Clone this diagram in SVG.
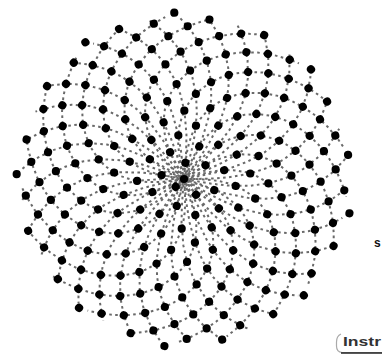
<svg xmlns="http://www.w3.org/2000/svg" width="382" height="358" viewBox="0 0 382 358">
<style>
.arm{fill:none;stroke:#6a6a6a;stroke-width:2;stroke-dasharray:2.6 3.4}
.t{font-family:"Liberation Sans",Arial,sans-serif;font-weight:bold}
</style>
<defs>
<polyline id="a" class="arm" points="0,0 11.39,0.07 19.73,0.38 27.88,1.07 35.95,2.29 43.91,4.21 51.73,6.96 61.25,11.85 69.71,18.16 76.49,25.22 81.87,32.89 87.59,45.35 90.78,58.6 91.56,72.37 90.07,86.34 86.38,100.26 80.52,113.92 72.69,126.98 62.94,139.24 51.36,150.53 42.73,157.37"/>
<polyline id="b" class="arm" points="0,0 11.39,-0.03 27.9,-0.41 44.08,-1.61 66.18,-5.48 83.72,-11.26 99.96,-19.68 115.22,-31.56 127.03,-44.99 136.01,-59.64 142.41,-75.29 143.25,-77.95"/>
<circle id="d" r="0.36"/>
</defs>
<rect width="382" height="358" fill="#fff"/>
<g id="connectors" transform="translate(184,179)">
<use href="#a" style="stroke-dashoffset:0"/><use href="#a" transform="rotate(17.14)" style="stroke-dashoffset:1.7"/><use href="#a" transform="rotate(34.29)" style="stroke-dashoffset:3.4"/><use href="#a" transform="rotate(51.43)" style="stroke-dashoffset:5.1"/><use href="#a" transform="rotate(68.57)" style="stroke-dashoffset:0.8"/><use href="#a" transform="rotate(85.71)" style="stroke-dashoffset:2.5"/><use href="#a" transform="rotate(102.86)" style="stroke-dashoffset:4.2"/><use href="#a" transform="rotate(120)" style="stroke-dashoffset:5.9"/><use href="#a" transform="rotate(137.14)" style="stroke-dashoffset:1.6"/><use href="#a" transform="rotate(154.29)" style="stroke-dashoffset:3.3"/><use href="#a" transform="rotate(171.43)" style="stroke-dashoffset:5"/><use href="#a" transform="rotate(188.57)" style="stroke-dashoffset:0.7"/><use href="#a" transform="rotate(205.71)" style="stroke-dashoffset:2.4"/><use href="#a" transform="rotate(222.86)" style="stroke-dashoffset:4.1"/><use href="#a" transform="rotate(240)" style="stroke-dashoffset:5.8"/><use href="#a" transform="rotate(257.14)" style="stroke-dashoffset:1.5"/><use href="#a" transform="rotate(274.29)" style="stroke-dashoffset:3.2"/><use href="#a" transform="rotate(291.43)" style="stroke-dashoffset:4.9"/><use href="#a" transform="rotate(308.57)" style="stroke-dashoffset:0.6"/><use href="#a" transform="rotate(325.71)" style="stroke-dashoffset:2.3"/><use href="#a" transform="rotate(342.86)" style="stroke-dashoffset:4"/>
<use href="#b" style="stroke-dashoffset:2.9"/><use href="#b" transform="rotate(10.59)" style="stroke-dashoffset:4.6"/><use href="#b" transform="rotate(21.18)" style="stroke-dashoffset:0.3"/><use href="#b" transform="rotate(31.76)" style="stroke-dashoffset:2"/><use href="#b" transform="rotate(42.35)" style="stroke-dashoffset:3.7"/><use href="#b" transform="rotate(52.94)" style="stroke-dashoffset:5.4"/><use href="#b" transform="rotate(63.53)" style="stroke-dashoffset:1.1"/><use href="#b" transform="rotate(74.12)" style="stroke-dashoffset:2.8"/><use href="#b" transform="rotate(84.71)" style="stroke-dashoffset:4.5"/><use href="#b" transform="rotate(95.29)" style="stroke-dashoffset:0.2"/><use href="#b" transform="rotate(105.88)" style="stroke-dashoffset:1.9"/><use href="#b" transform="rotate(116.47)" style="stroke-dashoffset:3.6"/><use href="#b" transform="rotate(127.06)" style="stroke-dashoffset:5.3"/><use href="#b" transform="rotate(137.65)" style="stroke-dashoffset:1"/><use href="#b" transform="rotate(148.24)" style="stroke-dashoffset:2.7"/><use href="#b" transform="rotate(158.82)" style="stroke-dashoffset:4.4"/><use href="#b" transform="rotate(169.41)" style="stroke-dashoffset:0.1"/><use href="#b" transform="rotate(180)" style="stroke-dashoffset:1.8"/><use href="#b" transform="rotate(190.59)" style="stroke-dashoffset:3.5"/><use href="#b" transform="rotate(201.18)" style="stroke-dashoffset:5.2"/><use href="#b" transform="rotate(211.76)" style="stroke-dashoffset:0.9"/><use href="#b" transform="rotate(222.35)" style="stroke-dashoffset:2.6"/><use href="#b" transform="rotate(232.94)" style="stroke-dashoffset:4.3"/><use href="#b" transform="rotate(243.53)" style="stroke-dashoffset:6"/><use href="#b" transform="rotate(254.12)" style="stroke-dashoffset:1.7"/><use href="#b" transform="rotate(264.71)" style="stroke-dashoffset:3.4"/><use href="#b" transform="rotate(275.29)" style="stroke-dashoffset:5.1"/><use href="#b" transform="rotate(285.88)" style="stroke-dashoffset:0.8"/><use href="#b" transform="rotate(296.47)" style="stroke-dashoffset:2.5"/><use href="#b" transform="rotate(307.06)" style="stroke-dashoffset:4.2"/><use href="#b" transform="rotate(317.65)" style="stroke-dashoffset:5.9"/><use href="#b" transform="rotate(328.24)" style="stroke-dashoffset:1.6"/><use href="#b" transform="rotate(338.82)" style="stroke-dashoffset:3.3"/><use href="#b" transform="rotate(349.41)" style="stroke-dashoffset:5"/>
</g>
<g id="dots" transform="translate(184,179) scale(11.39)" fill="#000">
<use href="#d"/>
<use href="#d" transform="rotate(137.51)translate(1)"/>
<use href="#d" transform="rotate(275.02)translate(1.414)"/>
<use href="#d" transform="rotate(412.52)translate(1.732)"/>
<use href="#d" transform="rotate(550.03)translate(2)"/>
<use href="#d" transform="rotate(687.54)translate(2.236)"/>
<use href="#d" transform="rotate(825.05)translate(2.449)"/>
<use href="#d" transform="rotate(962.55)translate(2.646)"/>
<use href="#d" transform="rotate(1100.06)translate(2.828)"/>
<use href="#d" transform="rotate(1237.57)translate(3)"/>
<use href="#d" transform="rotate(1375.08)translate(3.162)"/>
<use href="#d" transform="rotate(1512.59)translate(3.317)"/>
<use href="#d" transform="rotate(1650.09)translate(3.464)"/>
<use href="#d" transform="rotate(1787.6)translate(3.606)"/>
<use href="#d" transform="rotate(1925.11)translate(3.742)"/>
<use href="#d" transform="rotate(2062.62)translate(3.873)"/>
<use href="#d" transform="rotate(2200.12)translate(4)"/>
<use href="#d" transform="rotate(2337.63)translate(4.123)"/>
<use href="#d" transform="rotate(2475.14)translate(4.243)"/>
<use href="#d" transform="rotate(2612.65)translate(4.359)"/>
<use href="#d" transform="rotate(2750.16)translate(4.472)"/>
<use href="#d" transform="rotate(2887.66)translate(4.583)"/>
<use href="#d" transform="rotate(3025.17)translate(4.69)"/>
<use href="#d" transform="rotate(3162.68)translate(4.796)"/>
<use href="#d" transform="rotate(3300.19)translate(4.899)"/>
<use href="#d" transform="rotate(3437.69)translate(5)"/>
<use href="#d" transform="rotate(3575.2)translate(5.099)"/>
<use href="#d" transform="rotate(3712.71)translate(5.196)"/>
<use href="#d" transform="rotate(3850.22)translate(5.292)"/>
<use href="#d" transform="rotate(3987.73)translate(5.385)"/>
<use href="#d" transform="rotate(4125.23)translate(5.477)"/>
<use href="#d" transform="rotate(4262.74)translate(5.568)"/>
<use href="#d" transform="rotate(4400.25)translate(5.657)"/>
<use href="#d" transform="rotate(4537.76)translate(5.745)"/>
<use href="#d" transform="rotate(4675.26)translate(5.831)"/>
<use href="#d" transform="rotate(4812.77)translate(5.916)"/>
<use href="#d" transform="rotate(4950.28)translate(6)"/>
<use href="#d" transform="rotate(5087.79)translate(6.083)"/>
<use href="#d" transform="rotate(5225.29)translate(6.164)"/>
<use href="#d" transform="rotate(5362.8)translate(6.245)"/>
<use href="#d" transform="rotate(5500.31)translate(6.325)"/>
<use href="#d" transform="rotate(5637.82)translate(6.403)"/>
<use href="#d" transform="rotate(5775.33)translate(6.481)"/>
<use href="#d" transform="rotate(5912.83)translate(6.557)"/>
<use href="#d" transform="rotate(6050.34)translate(6.633)"/>
<use href="#d" transform="rotate(6187.85)translate(6.708)"/>
<use href="#d" transform="rotate(6325.36)translate(6.782)"/>
<use href="#d" transform="rotate(6462.86)translate(6.856)"/>
<use href="#d" transform="rotate(6600.37)translate(6.928)"/>
<use href="#d" transform="rotate(6737.88)translate(7)"/>
<use href="#d" transform="rotate(6875.39)translate(7.071)"/>
<use href="#d" transform="rotate(7012.9)translate(7.141)"/>
<use href="#d" transform="rotate(7150.4)translate(7.211)"/>
<use href="#d" transform="rotate(7287.91)translate(7.28)"/>
<use href="#d" transform="rotate(7425.42)translate(7.348)"/>
<use href="#d" transform="rotate(7562.93)translate(7.416)"/>
<use href="#d" transform="rotate(7700.43)translate(7.483)"/>
<use href="#d" transform="rotate(7837.94)translate(7.55)"/>
<use href="#d" transform="rotate(7975.45)translate(7.616)"/>
<use href="#d" transform="rotate(8112.96)translate(7.681)"/>
<use href="#d" transform="rotate(8250.47)translate(7.746)"/>
<use href="#d" transform="rotate(8387.97)translate(7.81)"/>
<use href="#d" transform="rotate(8525.48)translate(7.874)"/>
<use href="#d" transform="rotate(8662.99)translate(7.937)"/>
<use href="#d" transform="rotate(8800.5)translate(8)"/>
<use href="#d" transform="rotate(8938)translate(8.062)"/>
<use href="#d" transform="rotate(9075.51)translate(8.124)"/>
<use href="#d" transform="rotate(9213.02)translate(8.185)"/>
<use href="#d" transform="rotate(9350.53)translate(8.246)"/>
<use href="#d" transform="rotate(9488.04)translate(8.307)"/>
<use href="#d" transform="rotate(9625.54)translate(8.367)"/>
<use href="#d" transform="rotate(9763.05)translate(8.426)"/>
<use href="#d" transform="rotate(9900.56)translate(8.485)"/>
<use href="#d" transform="rotate(10038.07)translate(8.544)"/>
<use href="#d" transform="rotate(10175.57)translate(8.602)"/>
<use href="#d" transform="rotate(10313.08)translate(8.66)"/>
<use href="#d" transform="rotate(10450.59)translate(8.718)"/>
<use href="#d" transform="rotate(10588.1)translate(8.775)"/>
<use href="#d" transform="rotate(10725.61)translate(8.832)"/>
<use href="#d" transform="rotate(10863.11)translate(8.888)"/>
<use href="#d" transform="rotate(11000.62)translate(8.944)"/>
<use href="#d" transform="rotate(11138.13)translate(9)"/>
<use href="#d" transform="rotate(11275.64)translate(9.055)"/>
<use href="#d" transform="rotate(11413.14)translate(9.11)"/>
<use href="#d" transform="rotate(11550.65)translate(9.165)"/>
<use href="#d" transform="rotate(11688.16)translate(9.22)"/>
<use href="#d" transform="rotate(11825.67)translate(9.274)"/>
<use href="#d" transform="rotate(11963.18)translate(9.327)"/>
<use href="#d" transform="rotate(12100.68)translate(9.381)"/>
<use href="#d" transform="rotate(12238.19)translate(9.434)"/>
<use href="#d" transform="rotate(12375.7)translate(9.487)"/>
<use href="#d" transform="rotate(12513.21)translate(9.539)"/>
<use href="#d" transform="rotate(12650.71)translate(9.592)"/>
<use href="#d" transform="rotate(12788.22)translate(9.644)"/>
<use href="#d" transform="rotate(12925.73)translate(9.695)"/>
<use href="#d" transform="rotate(13063.24)translate(9.747)"/>
<use href="#d" transform="rotate(13200.74)translate(9.798)"/>
<use href="#d" transform="rotate(13338.25)translate(9.849)"/>
<use href="#d" transform="rotate(13475.76)translate(9.899)"/>
<use href="#d" transform="rotate(13613.27)translate(9.95)"/>
<use href="#d" transform="rotate(13750.78)translate(10)"/>
<use href="#d" transform="rotate(13888.28)translate(10.05)"/>
<use href="#d" transform="rotate(14025.79)translate(10.1)"/>
<use href="#d" transform="rotate(14163.3)translate(10.149)"/>
<use href="#d" transform="rotate(14300.81)translate(10.198)"/>
<use href="#d" transform="rotate(14438.31)translate(10.247)"/>
<use href="#d" transform="rotate(14575.82)translate(10.296)"/>
<use href="#d" transform="rotate(14713.33)translate(10.344)"/>
<use href="#d" transform="rotate(14850.84)translate(10.392)"/>
<use href="#d" transform="rotate(14988.35)translate(10.44)"/>
<use href="#d" transform="rotate(15125.85)translate(10.488)"/>
<use href="#d" transform="rotate(15263.36)translate(10.536)"/>
<use href="#d" transform="rotate(15400.87)translate(10.583)"/>
<use href="#d" transform="rotate(15538.38)translate(10.63)"/>
<use href="#d" transform="rotate(15675.88)translate(10.677)"/>
<use href="#d" transform="rotate(15813.39)translate(10.724)"/>
<use href="#d" transform="rotate(15950.9)translate(10.77)"/>
<use href="#d" transform="rotate(16088.41)translate(10.817)"/>
<use href="#d" transform="rotate(16225.92)translate(10.863)"/>
<use href="#d" transform="rotate(16363.42)translate(10.909)"/>
<use href="#d" transform="rotate(16500.93)translate(10.954)"/>
<use href="#d" transform="rotate(16638.44)translate(11)"/>
<use href="#d" transform="rotate(16775.95)translate(11.045)"/>
<use href="#d" transform="rotate(16913.45)translate(11.091)"/>
<use href="#d" transform="rotate(17050.96)translate(11.136)"/>
<use href="#d" transform="rotate(17188.47)translate(11.18)"/>
<use href="#d" transform="rotate(17325.98)translate(11.225)"/>
<use href="#d" transform="rotate(17463.49)translate(11.269)"/>
<use href="#d" transform="rotate(17600.99)translate(11.314)"/>
<use href="#d" transform="rotate(17738.5)translate(11.358)"/>
<use href="#d" transform="rotate(17876.01)translate(11.402)"/>
<use href="#d" transform="rotate(18013.52)translate(11.446)"/>
<use href="#d" transform="rotate(18151.02)translate(11.489)"/>
<use href="#d" transform="rotate(18288.53)translate(11.533)"/>
<use href="#d" transform="rotate(18426.04)translate(11.576)"/>
<use href="#d" transform="rotate(18563.55)translate(11.619)"/>
<use href="#d" transform="rotate(18701.06)translate(11.662)"/>
<use href="#d" transform="rotate(18838.56)translate(11.705)"/>
<use href="#d" transform="rotate(18976.07)translate(11.747)"/>
<use href="#d" transform="rotate(19113.58)translate(11.79)"/>
<use href="#d" transform="rotate(19251.09)translate(11.832)"/>
<use href="#d" transform="rotate(19388.59)translate(11.874)"/>
<use href="#d" transform="rotate(19526.1)translate(11.916)"/>
<use href="#d" transform="rotate(19663.61)translate(11.958)"/>
<use href="#d" transform="rotate(19801.12)translate(12)"/>
<use href="#d" transform="rotate(19938.63)translate(12.042)"/>
<use href="#d" transform="rotate(20076.13)translate(12.083)"/>
<use href="#d" transform="rotate(20213.64)translate(12.124)"/>
<use href="#d" transform="rotate(20351.15)translate(12.166)"/>
<use href="#d" transform="rotate(20488.66)translate(12.207)"/>
<use href="#d" transform="rotate(20626.16)translate(12.247)"/>
<use href="#d" transform="rotate(20763.67)translate(12.288)"/>
<use href="#d" transform="rotate(20901.18)translate(12.329)"/>
<use href="#d" transform="rotate(21038.69)translate(12.369)"/>
<use href="#d" transform="rotate(21176.2)translate(12.41)"/>
<use href="#d" transform="rotate(21313.7)translate(12.45)"/>
<use href="#d" transform="rotate(21451.21)translate(12.49)"/>
<use href="#d" transform="rotate(21588.72)translate(12.53)"/>
<use href="#d" transform="rotate(21726.23)translate(12.57)"/>
<use href="#d" transform="rotate(21863.73)translate(12.61)"/>
<use href="#d" transform="rotate(22001.24)translate(12.649)"/>
<use href="#d" transform="rotate(22138.75)translate(12.689)"/>
<use href="#d" transform="rotate(22276.26)translate(12.728)"/>
<use href="#d" transform="rotate(22413.76)translate(12.767)"/>
<use href="#d" transform="rotate(22551.27)translate(12.806)"/>
<use href="#d" transform="rotate(22688.78)translate(12.845)"/>
<use href="#d" transform="rotate(22826.29)translate(12.884)"/>
<use href="#d" transform="rotate(22963.8)translate(12.923)"/>
<use href="#d" transform="rotate(23101.3)translate(12.961)"/>
<use href="#d" transform="rotate(23238.81)translate(13)"/>
<use href="#d" transform="rotate(23376.32)translate(13.038)"/>
<use href="#d" transform="rotate(23513.83)translate(13.077)"/>
<use href="#d" transform="rotate(23651.33)translate(13.115)"/>
<use href="#d" transform="rotate(23788.84)translate(13.153)"/>
<use href="#d" transform="rotate(23926.35)translate(13.191)"/>
<use href="#d" transform="rotate(24063.86)translate(13.229)"/>
<use href="#d" transform="rotate(24201.37)translate(13.266)"/>
<use href="#d" transform="rotate(24338.87)translate(13.304)"/>
<use href="#d" transform="rotate(24476.38)translate(13.342)"/>
<use href="#d" transform="rotate(24613.89)translate(13.379)"/>
<use href="#d" transform="rotate(24751.4)translate(13.416)"/>
<use href="#d" transform="rotate(24888.9)translate(13.454)"/>
<use href="#d" transform="rotate(25026.41)translate(13.491)"/>
<use href="#d" transform="rotate(25163.92)translate(13.528)"/>
<use href="#d" transform="rotate(25301.43)translate(13.565)"/>
<use href="#d" transform="rotate(25438.94)translate(13.601)"/>
<use href="#d" transform="rotate(25576.44)translate(13.638)"/>
<use href="#d" transform="rotate(25713.95)translate(13.675)"/>
<use href="#d" transform="rotate(25851.46)translate(13.711)"/>
<use href="#d" transform="rotate(25988.97)translate(13.748)"/>
<use href="#d" transform="rotate(26126.47)translate(13.784)"/>
<use href="#d" transform="rotate(26263.98)translate(13.82)"/>
<use href="#d" transform="rotate(26401.49)translate(13.856)"/>
<use href="#d" transform="rotate(26539)translate(13.892)"/>
<use href="#d" transform="rotate(26676.51)translate(13.928)"/>
<use href="#d" transform="rotate(26814.01)translate(13.964)"/>
<use href="#d" transform="rotate(26951.52)translate(14)"/>
<use href="#d" transform="rotate(27089.03)translate(14.036)"/>
<use href="#d" transform="rotate(27226.54)translate(14.071)"/>
<use href="#d" transform="rotate(27364.04)translate(14.107)"/>
<use href="#d" transform="rotate(27501.55)translate(14.142)"/>
<use href="#d" transform="rotate(27639.06)translate(14.177)"/>
<use href="#d" transform="rotate(27776.57)translate(14.213)"/>
<use href="#d" transform="rotate(27914.08)translate(14.248)"/>
<use href="#d" transform="rotate(28051.58)translate(14.283)"/>
<use href="#d" transform="rotate(28189.09)translate(14.318)"/>
<use href="#d" transform="rotate(28326.6)translate(14.353)"/>
<use href="#d" transform="rotate(28464.11)translate(14.387)"/>
<use href="#d" transform="rotate(28601.61)translate(14.422)"/>
<use href="#d" transform="rotate(28739.12)translate(14.457)"/>
<use href="#d" transform="rotate(28876.63)translate(14.491)"/>
<use href="#d" transform="rotate(29014.14)translate(14.526)"/>
<use href="#d" transform="rotate(29151.65)translate(14.56)"/>
<use href="#d" transform="rotate(29289.15)translate(14.595)"/>
<use href="#d" transform="rotate(29426.66)translate(14.629)"/>
<use href="#d" transform="rotate(29564.17)translate(14.663)"/>
<use href="#d" transform="rotate(29701.68)translate(14.697)"/>
<use href="#d" transform="rotate(29839.18)translate(14.731)"/>
<use href="#d" transform="rotate(29976.69)translate(14.765)"/>
<use href="#d" transform="rotate(30114.2)translate(14.799)"/>
<use href="#d" transform="rotate(30251.71)translate(14.832)"/>
</g>
<text class="t" x="374" y="247" font-size="12" fill="#111">s</text>
<g id="instr">
<path d="M341 334 Q336.5 336 336.5 342 L336.5 346 Q336.5 352 342 352.5 L382 352.5" fill="none" stroke="#aaa" stroke-width="1.2"/>
<line x1="341" y1="353" x2="382" y2="353" stroke="#222" stroke-width="1.6"/>
<text class="t" x="343" y="346" font-size="12" fill="#333" textLength="38" lengthAdjust="spacingAndGlyphs">Instr</text>
</g>
</svg>
